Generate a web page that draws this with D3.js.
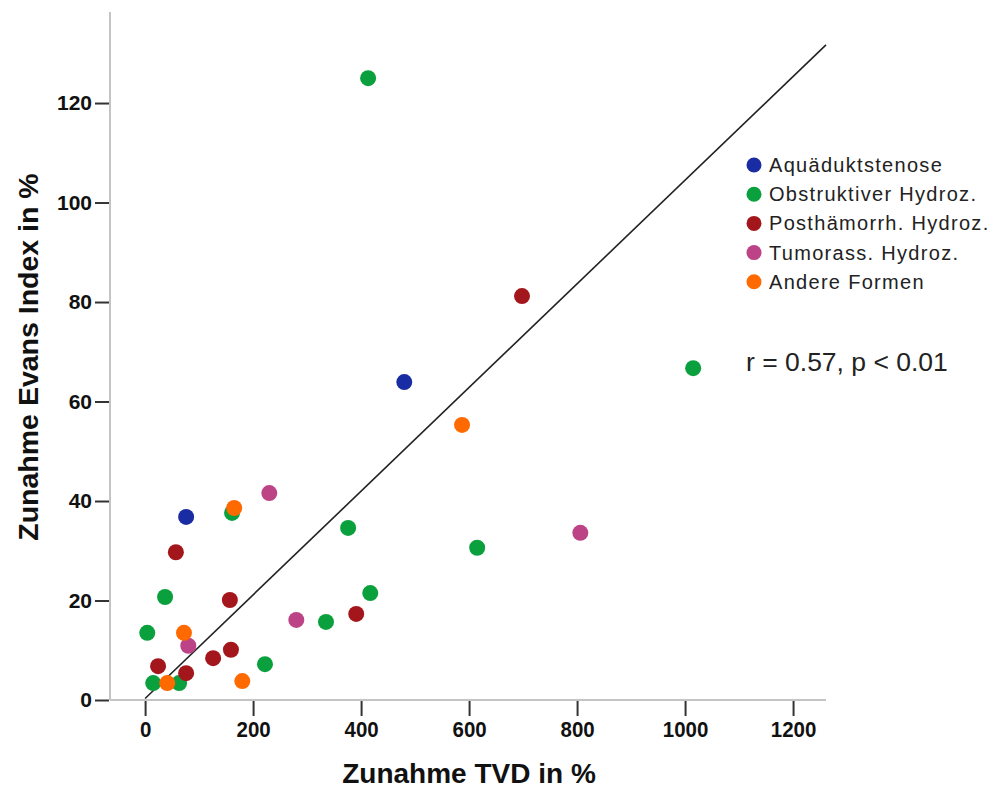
<!DOCTYPE html>
<html><head><meta charset="utf-8">
<script src="https://cdn.jsdelivr.net/npm/d3@7"></script>
<style>body{margin:0;background:#fff}svg{display:block}</style>
</head><body>
<svg id="chart" width="993" height="789"></svg>
<script>
const categories = ["Aquäduktstenose","Obstruktiver Hydroz.","Posthämorrh. Hydroz.","Tumorass. Hydroz.","Andere Formen"];
const colors = ["#1a2ca3","#0aa03e","#a3161c","#bd4387","#ff6a00"];
// [TVD %, Evans %]
const aquaeduktstenose = [[480,63.9],[76,36.8]];
const obstruktiv = [[413,125],[1015,66.7],[161,37.6],[376,34.6],[615,30.6],[37,20.7],[417,21.5],[335,15.7],[4,13.5],[222,7.2],[15,3.4],[63,3.4]];
const posthaemorrh = [[698,81.2],[57,29.7],[157,20.1],[391,17.3],[159,10.1],[126,8.4],[24,6.8],[76,5.4]];
const tumorass = [[230,41.6],[806,33.6],[280,16.1],[80,10.9]];
const andere = [[587,55.3],[165,38.6],[72,13.5],[41,3.4],[180,3.8]];
const seriesValues = [aquaeduktstenose, obstruktiv, posthaemorrh, tumorass, andere];
const xTicks = [0,200,400,600,800,1000,1200];
const yTicks = [0,20,40,60,80,100,120];
const fit = {intercept:0.3, slope:0.1042};
const xDomain = [-65,1261], yDomain = [0,138.3];

const svg = d3.select("#chart");
const x = d3.scaleLinear().domain(xDomain).range([110,826]);
const y = d3.scaleLinear().domain(yDomain).range([700,12]);
const font = "'Liberation Sans',Arial,sans-serif";

// axes lines
svg.append("line").attr("x1",110).attr("x2",110).attr("y1",y(yDomain[1])).attr("y2",700)
  .attr("stroke","#c4c4c4").attr("stroke-width",2);
svg.append("line").attr("x1",110).attr("x2",826).attr("y1",700).attr("y2",700)
  .attr("stroke","#c4c4c4").attr("stroke-width",2);

const xAxis = d3.axisBottom(x).tickValues(xTicks).tickFormat(d3.format("d")).tickSize(15).tickPadding(5);
const gx = svg.append("g").attr("transform","translate(0,701)").call(xAxis);
gx.select(".domain").remove();
gx.selectAll(".tick line").attr("stroke","#333").attr("stroke-width",2);
gx.selectAll(".tick text").attr("fill","#111").style("font-family",font)
  .style("font-weight","bold").style("font-size","22px").attr("transform","scale(0.93,1)");

const yAxis = d3.axisLeft(y).tickValues(yTicks).tickFormat(d3.format("d")).tickSize(14).tickPadding(3);
const gy = svg.append("g").attr("transform","translate(109,0)").call(yAxis);
gy.select(".domain").remove();
gy.selectAll(".tick line").attr("stroke","#333").attr("stroke-width",2);
gy.selectAll(".tick text").attr("fill","#111").style("font-family",font)
  .style("font-weight","bold").style("font-size","21px");

// fit line
svg.append("line")
  .attr("x1",x(0)).attr("y1",y(fit.intercept))
  .attr("x2",x(xDomain[1])).attr("y2",y(fit.intercept+fit.slope*xDomain[1]))
  .attr("stroke","#222").attr("stroke-width",1.6);

// points
seriesValues.forEach((arr,i)=>{
  svg.append("g").selectAll("circle").data(arr).join("circle")
    .attr("cx",d=>x(d[0])).attr("cy",d=>y(d[1])).attr("r",8)
    .attr("fill",colors[i]);
});

// legend
const lg = svg.append("g");
categories.forEach((c,i)=>{
  const yy = 165 + i*29.2;
  lg.append("circle").attr("cx",754).attr("cy",yy).attr("r",7.5).attr("fill",colors[i]);
  lg.append("text").attr("x",769).attr("y",yy+7).text(c)
    .style("font-family",font).style("font-size","20px")
    .style("letter-spacing","1.3px").attr("fill","#222");
});

svg.append("text").attr("x",746).attr("y",371).text("r = 0.57, p < 0.01")
  .style("font-family",font).style("font-size","26.5px").attr("fill","#222");

svg.append("text").attr("x",469).attr("y",783).attr("text-anchor","middle").text("Zunahme TVD in %")
  .style("font-family",font).style("font-weight","bold").style("font-size","28px").attr("fill","#111");
svg.append("text").attr("transform","translate(38,357) rotate(-90)").attr("text-anchor","middle").text("Zunahme Evans Index in %")
  .style("font-family",font).style("font-weight","bold").style("font-size","28.5px").attr("fill","#111");
</script>
</body></html>
